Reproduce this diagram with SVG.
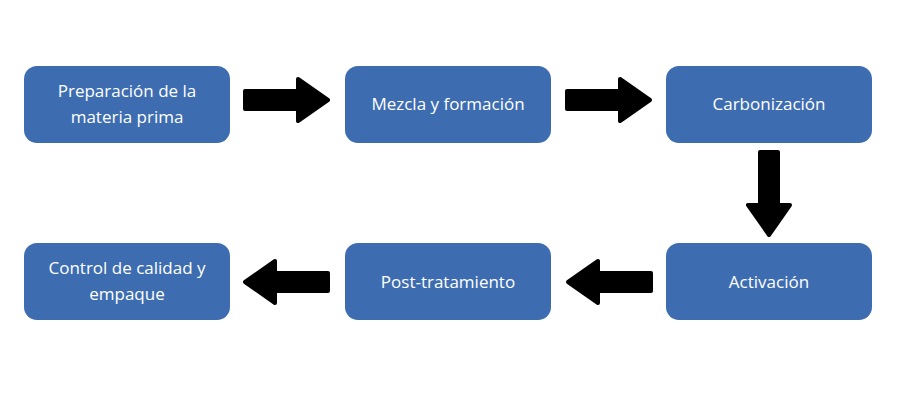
<svg xmlns="http://www.w3.org/2000/svg" width="900" height="400" viewBox="0 0 900 400">
<defs>
<style>
.n{fill:#3d6db0;}
.t{font-family:"Open Sans","Liberation Sans",sans-serif;font-size:17px;fill:#fff;text-anchor:middle;}
.a{fill:#000;stroke:#000;stroke-width:4;stroke-linejoin:round;}
</style>
<path id="arr" d="M2,-9 H55 V-21 L85,0 L55,21 V9 H2 Z"/>
</defs>
<rect width="900" height="400" fill="#fff"/>
<g id="connectors" class="a">
<use href="#arr" transform="translate(243,100)"/>
<use href="#arr" transform="translate(565,100)"/>
<use href="#arr" transform="translate(769,150) rotate(90)"/>
<use href="#arr" transform="translate(653,282) rotate(180)"/>
<use href="#arr" transform="translate(330,282) rotate(180)"/>
</g>
<g id="n1"><rect class="n" x="24" y="66" width="206" height="77" rx="13"/><text class="t" x="127" y="97">Preparación de la</text><text class="t" x="127" y="123">materia prima</text></g>
<g id="n2"><rect class="n" x="345" y="66" width="206" height="77" rx="13"/><text class="t" x="448" y="110">Mezcla y formación</text></g>
<g id="n3"><rect class="n" x="666" y="66" width="206" height="77" rx="13"/><text class="t" x="769" y="110">Carbonización</text></g>
<g id="n4"><rect class="n" x="666" y="243" width="206" height="77" rx="13"/><text class="t" x="769" y="288">Activación</text></g>
<g id="n5"><rect class="n" x="345" y="243" width="206" height="77" rx="13"/><text class="t" x="448" y="288">Post-tratamiento</text></g>
<g id="n6"><rect class="n" x="24" y="243" width="206" height="77" rx="13"/><text class="t" x="127" y="274">Control de calidad y</text><text class="t" x="127" y="300">empaque</text></g>
</svg>
